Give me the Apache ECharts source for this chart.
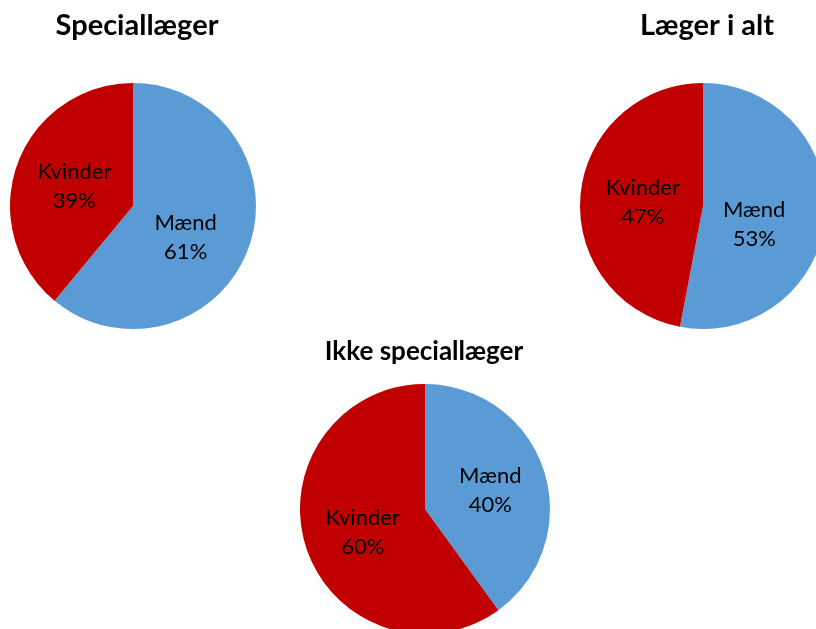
<!DOCTYPE html>
<html>
<head>
<meta charset="utf-8">
<script src="https://cdn.jsdelivr.net/npm/echarts@6/dist/echarts.min.js"></script>
<style>
  html, body { margin: 0; padding: 0; background: #fff; }
  #chart { width: 816px; height: 629px; }
</style>
</head>
<body>
<div id="chart"></div>
<script>
// køn
const categories = ['Mænd', 'Kvinder']
// andele i procent
const speciallaeger = [61, 39]
const laegerIAlt = [53, 47]
const ikkeSpeciallaeger = [40, 60]

const colors = ['#5B9BD5', '#C00000']
const fontFamily = 'Lato, "Open Sans", sans-serif'

// offsets: labelflytning pr. kategori (som i originalen)
function toData(values, offsets) {
    return categories.map((name, i) => {
        let item = { name: name, value: values[i] }
        if (offsets && offsets[i]) {
            item.label = { offset: offsets[i] }
        }
        return item
    })
}

function pieSeries(name, values, center, radius, offsets) {
    return {
        name: name,
        type: 'pie',
        center: center,
        radius: radius,
        startAngle: 90,
        clockwise: true,
        silent: true,
        itemStyle: { borderWidth: 0 },
        label: {
            show: true,
            position: 'inner',
            formatter: '{b}\n{d}%',
            color: '#000',
            fontSize: 22,
            lineHeight: 29,
            fontFamily: fontFamily
        },
        labelLine: { show: false },
        data: toData(values, offsets)
    }
}

const chart = echarts.init(document.getElementById('chart'))
chart.setOption({
    color: colors,
    animation: false,
    title: [
        {
            text: 'Speciallæger', left: 132, top: 6, textAlign: 'center',
            textStyle: { fontSize: 29, fontWeight: 'bold', color: '#000', fontFamily: fontFamily }
        },
        {
            text: 'Læger i alt', left: 702, top: 6, textAlign: 'center',
            textStyle: { fontSize: 29, fontWeight: 'bold', color: '#000', fontFamily: fontFamily }
        },
        {
            text: 'Ikke speciallæger', left: 419, top: 334, textAlign: 'center',
            textStyle: { fontSize: 26, fontWeight: 'bold', color: '#000', fontFamily: fontFamily }
        }
    ],
    series: [
        pieSeries('Speciallæger', speciallaeger, [133, 206], 123, [[-8, 10], [2, 2]]),
        pieSeries('Læger i alt', laegerIAlt, [703, 206], 123, [[-13, 12], [4, 2]]),
        pieSeries('Ikke speciallæger', ikkeSpeciallaeger, [425, 509], 125, [[3, 2], [0, 3]])
    ]
})
</script>
</body>
</html>
